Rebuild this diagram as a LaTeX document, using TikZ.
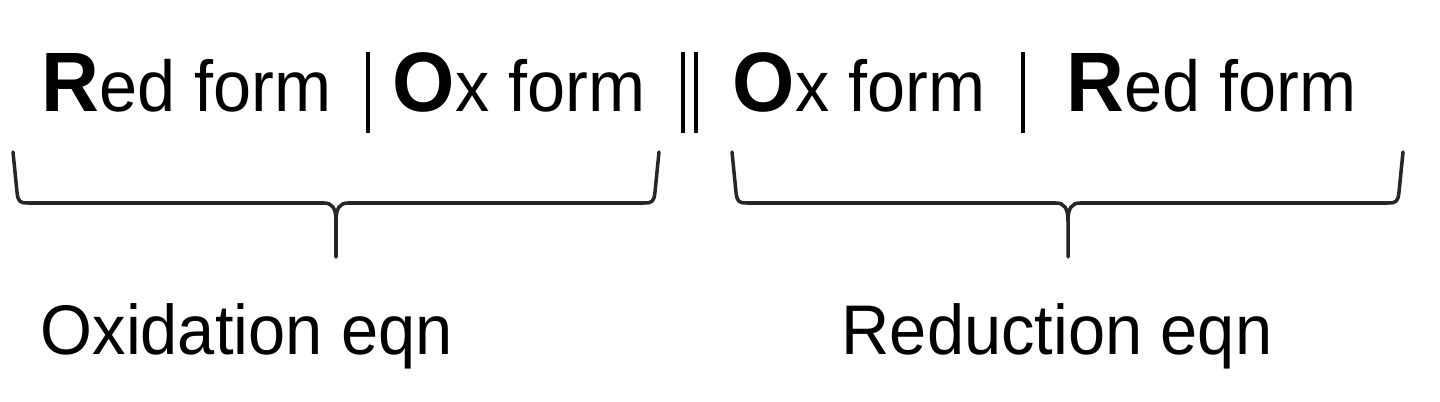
\documentclass[tikz,border=0pt]{standalone}
\usepackage{fontspec}
\setmainfont[FakeStretch=0.95]{Liberation Sans}
\usepackage{tikz}

\newcommand{\keyletter}[1]{{\fontsize{24}{28}\selectfont\bfseries #1}}
\newcommand{\halfbrace}[3]{%
	\draw[bracestyle] (#1,2.49) -- (#1+0.04,2.09) .. controls (#1+0.05,1.99) and (#1+0.07,1.98) .. (#1+0.15,1.98)
		-- (#2-0.12,1.98) .. controls (#2-0.04,1.98) and (#2,1.93) .. (#2,1.80) -- (#2,1.44);
	\draw[bracestyle] (#2,1.80) .. controls (#2,1.93) and (#2+0.04,1.98) .. (#2+0.12,1.98)
		-- (#3-0.15,1.98) .. controls (#3-0.07,1.98) and (#3-0.05,1.99) .. (#3-0.04,2.09) -- (#3,2.49);}

\tikzset{
	formtext/.style={anchor=base west, inner sep=0pt, font=\fontsize{20.5}{24}\selectfont},
	eqntext/.style={formtext, font=\fontsize{20}{24}\selectfont},
	bracestyle/.style={line width=1pt, line join=round, line cap=round, black!85},
	barline/.style={line width=1.1pt}
}

\begin{document}
\begin{tikzpicture}
		\useasboundingbox (0,0) rectangle (14.4,4.01);
		
		% cell notation
		\node[formtext] (redleft) at (0.41,2.89){\keyletter{R}ed form};
		\node[formtext] (oxleft) at (3.92,2.89){\keyletter{O}x form};
		\node[formtext] (oxright) at (7.32,2.89){\keyletter{O}x form};
		\node[formtext] (redright) at (10.66,2.89){\keyletter{R}ed form};
		
		\draw[barline] (3.68,3.49) -- (3.68,2.68);
		\draw[line width=0.9pt] (6.83,3.49) -- (6.83,2.68);
		\draw[line width=0.9pt] (6.96,3.49) -- (6.96,2.68);
		\draw[barline] (10.23,3.49) -- (10.23,2.68);
		
		% braces
		\halfbrace{0.13}{3.36}{6.59}
		\halfbrace{7.32}{10.68}{14.03}
		
		\node[eqntext] (oxeqn) at (0.40,0.46){Oxidation eqn};
		\node[eqntext] (redeqn) at (8.41,0.46){Reduction eqn};
		
\end{tikzpicture}
\end{document}
